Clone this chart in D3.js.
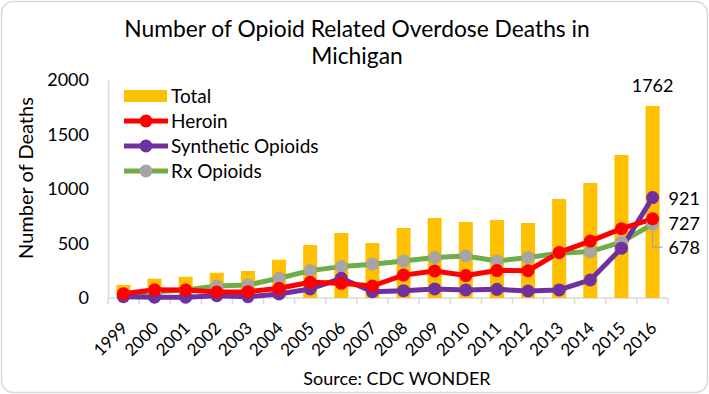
<!DOCTYPE html>
<html>
<head>
<meta charset="utf-8">
<script src="https://cdn.jsdelivr.net/npm/d3@7"></script>
<style>
  body { margin: 0; background: #fff; }
  text { font-family: Lato, "Open Sans", sans-serif; fill: #000; }
</style>
</head>
<body>
<div id="wrapper"></div>
<script>
// values
const years = ["1999","2000","2001","2002","2003","2004","2005","2006","2007","2008","2009","2010","2011","2012","2013","2014","2015","2016"];
const total = [120,177,195,232,248,351,486,596,505,642,734,697,716,688,908,1055,1312,1762];
const heroin = [40,75,73,55,58,89,145,135,110,210,248,206,252,250,418,522,636,727];
const synthetic = [12,8,8,21,12,37,83,181,58,67,83,74,80,64,74,166,457,921];
const rx = [37,58,74,110,120,181,251,288,310,340,371,386,340,371,411,426,512,678];
const yTicks = [0,500,1000,1500,2000];

const seriesList = [
  {name: "Heroin", values: heroin, color: "#FF0000", dot: "#FF0000"},
  {name: "Synthetic Opioids", values: synthetic, color: "#7030A0", dot: "#7030A0"},
  {name: "Rx Opioids", values: rx, color: "#70AD47", dot: "#A5A5A5"}
];

let dimensions = {
  width: 709,
  height: 394,
  margin: {top: 80, right: 41, bottom: 96, left: 108}
};
dimensions.boundedWidth = dimensions.width - dimensions.margin.left - dimensions.margin.right;
dimensions.boundedHeight = dimensions.height - dimensions.margin.top - dimensions.margin.bottom;

const svg = d3.select("#wrapper").append("svg")
  .attr("width", dimensions.width)
  .attr("height", dimensions.height);

// outer border
svg.append("rect")
  .attr("x", 1.5).attr("y", 1.5)
  .attr("width", dimensions.width - 3).attr("height", dimensions.height - 3)
  .attr("rx", 12)
  .attr("fill", "#fff").attr("stroke", "#d9d9d9").attr("stroke-width", 1.5);

// title
svg.append("text").attr("x", 357).attr("y", 37).attr("text-anchor", "middle")
  .style("font-size", "22.8px").text("Number of Opioid Related Overdose Deaths in");
svg.append("text").attr("x", 357).attr("y", 64).attr("text-anchor", "middle")
  .style("font-size", "22.8px").text("Michigan");

const g = svg.append("g")
  .attr("transform", `translate(${dimensions.margin.left},${dimensions.margin.top})`);

const xScale = d3.scaleBand()
  .domain(years)
  .range([0, dimensions.boundedWidth])
  .paddingInner(0.55).paddingOuter(0.27);

const xPoint = d => xScale(d) + xScale.bandwidth() / 2;

const yScale = d3.scaleLinear()
  .domain([0, 2000])
  .range([dimensions.boundedHeight, 0]);

// y axis
const yAxis = g.append("g").call(d3.axisLeft(yScale).tickValues(yTicks).tickFormat(d3.format("d")).tickSize(0).tickPadding(19));
yAxis.select(".domain").attr("stroke", "#d9d9d9").attr("stroke-width", 1.5);
yAxis.selectAll("text").style("font-size", "18px").style("font-family", "Lato, sans-serif");

// x axis
const xAxisG = g.append("g").attr("transform", `translate(0,${dimensions.boundedHeight})`);
xAxisG.append("line").attr("x1", 0).attr("x2", dimensions.boundedWidth)
  .attr("stroke", "#d9d9d9").attr("stroke-width", 1.5);
xAxisG.selectAll(".tk").data(d3.range(years.length + 1)).enter().append("line")
  .attr("x1", i => i * dimensions.boundedWidth / years.length)
  .attr("x2", i => i * dimensions.boundedWidth / years.length)
  .attr("y1", 0).attr("y2", 6)
  .attr("stroke", "#d9d9d9").attr("stroke-width", 1.5);
xAxisG.selectAll(".lbl").data(years).enter().append("text")
  .attr("transform", d => `translate(${xPoint(d) + 1},${27}) rotate(-45)`)
  .attr("text-anchor", "end")
  .attr("dy", "0.35em")
  .style("font-size", "17px")
  .text(d => d);

// bars
g.append("g").selectAll("rect")
  .data(years)
  .enter()
  .append("rect")
  .attr("x", d => xScale(d))
  .attr("y", (d, i) => yScale(total[i]))
  .attr("width", xScale.bandwidth())
  .attr("height", (d, i) => yScale(0) - yScale(total[i]))
  .attr("fill", "#FFC000");

// lines
const line = d3.line()
  .x((d, i) => xPoint(years[i]))
  .y(d => yScale(d));

seriesList.slice().reverse().forEach(s => {
  g.append("path")
    .datum(s.values)
    .attr("d", line)
    .attr("fill", "none")
    .attr("stroke", s.color)
    .attr("stroke-width", 5)
    .attr("stroke-linejoin", "round");
});
seriesList.slice().reverse().forEach(s => {
  g.append("g").selectAll("circle")
    .data(s.values)
    .enter()
    .append("circle")
    .attr("cx", (d, i) => xPoint(years[i]))
    .attr("cy", d => yScale(d))
    .attr("r", 6.5)
    .attr("fill", s.dot);
});

// value labels on last year
const last = years.length - 1;
const lx = xPoint(years[last]);
g.append("text").attr("x", lx) .attr("y", yScale(total[last]) - 14)
  .attr("text-anchor", "middle").style("font-size", "18px").text(total[last]);
g.append("text").attr("x", lx + 16).attr("y", yScale(synthetic[last]) + 7)
  .style("font-size", "18px").text(synthetic[last]);
g.append("text").attr("x", lx + 16).attr("y", yScale(heroin[last]) + 11)
  .style("font-size", "18px").text(heroin[last]);
// leader line for Rx label
const rxLabelY = yScale(rx[last]) + 23;
g.append("path")
  .attr("d", `M${lx},${yScale(rx[last]) + 6}V${rxLabelY}H${lx + 10}`)
  .attr("fill", "none").attr("stroke", "#A5A5A5").attr("stroke-width", 1.2);
g.append("text").attr("x", lx + 16).attr("y", rxLabelY + 7)
  .style("font-size", "18px").text(rx[last]);

// legend
const legend = svg.append("g").attr("transform", "translate(124,96)");
legend.append("rect").attr("x", 0).attr("y", -6).attr("width", 43).attr("height", 12).attr("fill", "#FFC000");
legend.append("text").attr("x", 47).attr("y", 0).attr("dy", "0.35em").style("font-size", "19px").text("Total");
seriesList.forEach((s, i) => {
  const ly = 25 * (i + 1);
  legend.append("line").attr("x1", 0).attr("x2", 44).attr("y1", ly).attr("y2", ly)
    .attr("stroke", s.color).attr("stroke-width", 5);
  legend.append("circle").attr("cx", 22).attr("cy", ly).attr("r", 6.5).attr("fill", s.dot);
  legend.append("text").attr("x", 47).attr("y", ly).attr("dy", "0.35em").style("font-size", "19px").text(s.name);
});

// y axis title
svg.append("text")
  .attr("transform", "translate(33,178) rotate(-90)")
  .attr("text-anchor", "middle")
  .style("font-size", "20px")
  .text("Number of Deaths");

// source
svg.append("text").attr("x", 397).attr("y", 385).attr("text-anchor", "middle")
  .style("font-size", "18px").text("Source: CDC WONDER");
</script>
</body>
</html>
